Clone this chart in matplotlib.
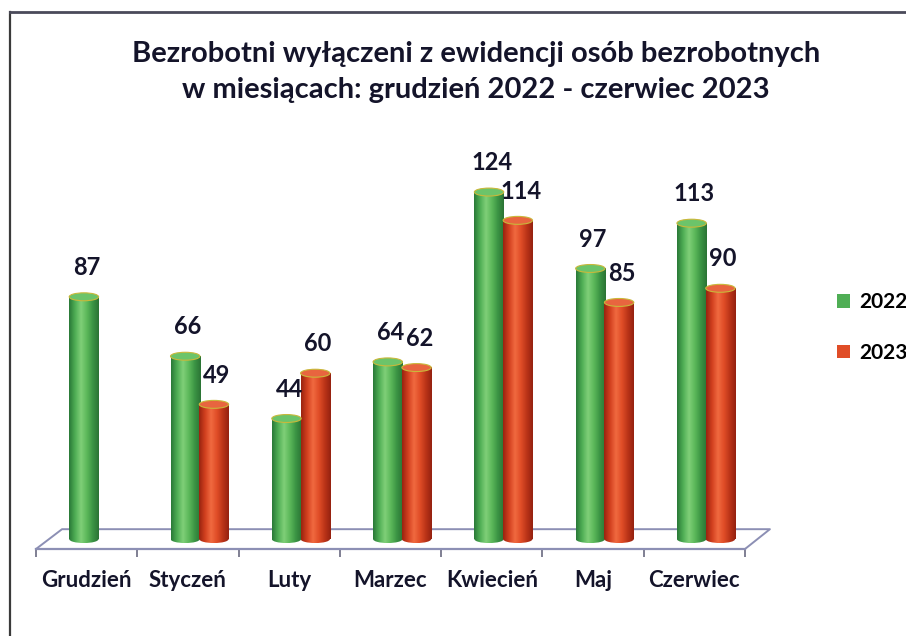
import numpy as np
import matplotlib
matplotlib.use("Agg")
import matplotlib.pyplot as plt
from matplotlib.patches import Ellipse, Patch
from matplotlib.colors import LinearSegmentedColormap

# ---- data ----
categories = ['Grudzień', 'Styczeń', 'Luty', 'Marzec', 'Kwiecień', 'Maj', 'Czerwiec']
series_names = ['2022', '2023']
values_2022 = [87, 66, 44, 64, 124, 97, 113]
values_2023 = [np.nan, 49, 60, 62, 114, 85, 90]
title_text = 'Bezrobotni wyłączeni z ewidencji osób bezrobotnych\nw miesiącach: grudzień 2022 - czerwiec 2023'

plt.rcParams['font.family'] = ['Lato', 'DejaVu Sans']

W, H = 906, 636
fig = plt.figure(figsize=(W / 100, H / 100), dpi=100)
fig.patch.set_facecolor('white')

# frame of the scanned chart
fig.add_artist(plt.Line2D([10 / W, 10 / W], [0, 1 - 12 / H], color='#3a3a3a', lw=1.6))
fig.add_artist(plt.Line2D([10 / W, 1], [1 - 12 / H, 1 - 12 / H], color='#4a4a5a', lw=2.0))

# axes: x = category index, y = value
ax_left, ax_right = 36, 745
ax_bottom_px, ax_top_px = 549, 142.8
ax = fig.add_axes([ax_left / W, (H - ax_bottom_px) / H,
                   (ax_right - ax_left) / W, (ax_bottom_px - ax_top_px) / H])
ax.set_xlim(-0.5, 6.5)
ax.set_ylim(-3.5, 140)
ax.patch.set_alpha(0)
for s in ['left', 'top', 'right']:
    ax.spines[s].set_visible(False)
ax.spines['bottom'].set_color('#8c8fb4')
ax.spines['bottom'].set_linewidth(1.6)
ax.set_yticks([])

x = np.arange(len(categories))
ax.set_xticks(np.arange(-0.5, len(categories) + 0.5, 1.0))
ax.set_xticklabels([])
ax.tick_params(axis='x', which='major', length=6, width=1.2, color='#6a6a80', direction='out')
ax.set_xticks(x, minor=True)
ax.set_xticklabels(categories, minor=True, fontsize=16, fontweight='bold', color='#14142a')
ax.tick_params(axis='x', which='minor', length=0, pad=15)

# floor (3D base plane)
fc = '#8c8fb4'
bx0, bx1, by = -0.243, 6.746, 3.5
ax.plot([-0.5, bx0, bx1, 6.5], [-3.5, by, by, -3.5], color=fc, lw=1.4, clip_on=False, zorder=1)

green_cmap = LinearSegmentedColormap.from_list('g', ['#2a7a38', '#4fae55', '#7fcf78', '#5cb85a', '#3b9444', '#2b7435'])
red_cmap = LinearSegmentedColormap.from_list('r', ['#9a2410', '#d2401f', '#f06a40', '#e04d27', '#bb3418', '#952210'])
top_colors = ['#6cc46a', '#e8653f']

bw = 0.29
offsets = [-0.027, 0.257]
cap_h = 2.8
grad = np.linspace(0, 1, 64).reshape(1, -1)

def cylinder(xc, v, cmap, topc):
    x0, x1 = xc - bw / 2, xc + bw / 2
    r = cap_h / 2
    ax.imshow(grad, cmap=cmap, extent=[x0, x1, 0, v - r], aspect='auto',
              zorder=3, interpolation='bilinear')
    bot = Ellipse((xc, 0), bw, cap_h, transform=ax.transData)
    im2 = ax.imshow(grad, cmap=cmap, extent=[x0, x1, -r, r], aspect='auto',
                    zorder=3, interpolation='bilinear')
    im2.set_clip_path(bot)
    top = Ellipse((xc, v - r), bw, cap_h, facecolor=topc, edgecolor='#c9b83a',
                  lw=0.8, zorder=4)
    ax.add_patch(top)

for si, (vals, cmap, topc) in enumerate([(values_2022, green_cmap, top_colors[0]),
                                         (values_2023, red_cmap, top_colors[1])]):
    for i, v in enumerate(vals):
        if np.isnan(v):
            continue
        xc = x[i] + offsets[si]
        cylinder(xc, v, cmap, topc)
        ax.annotate(f'{v:g}', (xc, v), xytext=(2, 10), textcoords='offset points',
                    ha='center', va='bottom', fontsize=17, fontweight='bold',
                    color='#14142a', zorder=5, annotation_clip=False)

ax.set_xlim(-0.5, 6.5)
ax.set_ylim(-3.5, 140)

fig.text(476 / W, 1 - 72 / H, title_text, ha='center', va='center', fontsize=21,
         fontweight='bold', color='#14142a', linespacing=1.5)

handles = [Patch(facecolor='#4fae55', edgecolor='none'), Patch(facecolor='#e04d27', edgecolor='none')]
fig.legend(handles, series_names, loc='upper left', bbox_to_anchor=(829 / W, 1 - 284 / H),
           frameon=False, prop={'size': 15, 'weight': 'bold'}, handlelength=0.6,
           handleheight=0.6, handletextpad=0.45, labelspacing=1.45, borderaxespad=0)

fig.savefig('out.png', dpi=100, facecolor='white')
